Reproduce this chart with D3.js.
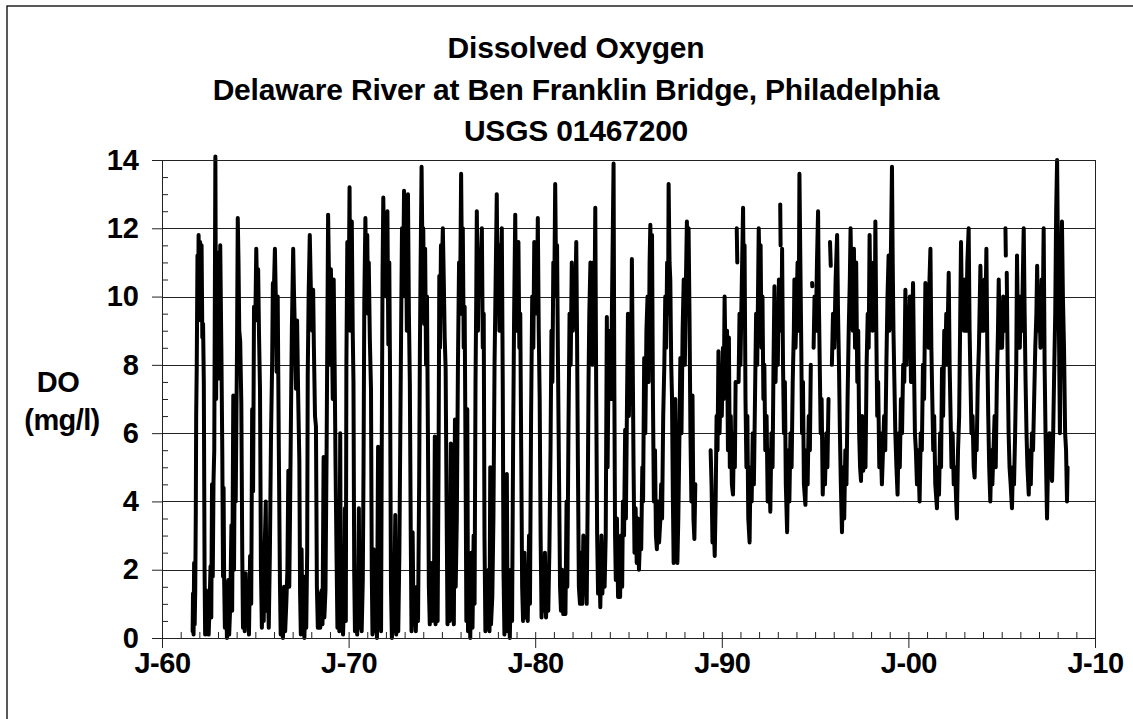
<!DOCTYPE html>
<html>
<head>
<meta charset="utf-8">
<style>
  body { margin: 0; background: #fff; }
  #chart-area svg { display: block; }
  text { font-family: Arial, "Liberation Sans", sans-serif; font-weight: bold; fill: #000; }
</style>
</head>
<body>
<div id="chart-area"></div>

<script src="https://cdnjs.cloudflare.com/ajax/libs/d3/7.8.5/d3.min.js"></script>
<script>
    // chart text
    const titleLines = ["Dissolved Oxygen", "Delaware River at Ben Franklin Bridge, Philadelphia", "USGS 01467200"];
    const yLabel = ["DO", "(mg/l)"];
    const yTicks = [0, 2, 4, 6, 8, 10, 12, 14];
    const xTickYears = [1960, 1970, 1980, 1990, 2000, 2010];
    const xTickLabels = ["J-60", "J-70", "J-80", "J-90", "J-00", "J-10"];

    // [decimal year, DO mg/l], null = gap in record
    const do1960s = [
        [1961.64,0.2],[1961.66,1.3],[1961.69,0.1],[1961.72,2.2],[1961.75,0.4],[1961.78,1.4],[1961.81,3.7],[1961.83,6.5],[1961.86,7.9],[1961.9,11.2],[1961.93,9.4],[1961.96,11.8],
        [1962.0,10.0],[1962.04,11.6],[1962.08,9.3],[1962.12,11.5],[1962.16,8.8],[1962.2,9.2],[1962.24,7.5],[1962.28,2.0],[1962.31,0.1],[1962.36,1.4],[1962.4,0.2],[1962.45,1.2],[1962.5,0.1],[1962.55,1.0],[1962.6,2.1],[1962.64,0.6],[1962.68,4.5],[1962.72,1.8],[1962.76,4.6],[1962.8,5.5],[1962.86,14.1],[1962.9,7.0],[1962.94,11.3],[1962.98,7.6],
        [1963.03,10.8],[1963.07,7.6],[1963.12,11.5],[1963.18,8.5],[1963.23,5.5],[1963.27,1.8],[1963.3,4.4],[1963.33,1.7],[1963.37,0.3],[1963.42,1.6],[1963.48,0.0],[1963.55,1.7],[1963.6,0.1],[1963.66,1.0],[1963.72,3.3],[1963.76,0.8],[1963.82,7.1],[1963.86,2.0],[1963.9,5.7],[1963.95,4.0],
        [1964.02,8.5],[1964.06,12.3],[1964.1,11.0],[1964.14,9.0],[1964.19,8.7],[1964.25,6.9],[1964.3,2.5],[1964.34,0.3],[1964.38,1.9],[1964.43,0.2],[1964.48,1.9],[1964.53,0.4],[1964.6,1.2],[1964.66,0.1],[1964.72,2.4],[1964.78,1.0],[1964.83,6.7],[1964.88,4.3],[1964.93,9.7],
        [1965.0,9.3],[1965.05,11.4],[1965.1,10.0],[1965.15,10.8],[1965.2,8.8],[1965.25,7.3],[1965.3,2.0],[1965.35,0.3],[1965.4,1.7],[1965.45,0.5],[1965.5,2.6],[1965.56,4.0],[1965.6,0.8],[1965.66,1.9],[1965.72,0.3],[1965.78,2.5],[1965.84,5.9],[1965.9,8.0],[1965.94,10.4],
        [1966.0,10.3],[1966.05,11.4],[1966.1,9.9],[1966.14,7.8],[1966.2,10.0],[1966.26,5.5],[1966.32,1.6],[1966.36,0.1],[1966.42,1.0],[1966.48,0.0],[1966.54,1.5],[1966.6,0.2],[1966.66,1.0],[1966.72,2.0],[1966.77,4.9],[1966.82,1.5],[1966.86,3.6],[1966.92,7.0],[1966.96,9.1],
        [1967.03,11.4],[1967.07,10.2],[1967.12,9.0],[1967.18,7.3],[1967.24,9.3],[1967.3,7.0],[1967.36,5.2],[1967.4,1.3],[1967.44,0.1],[1967.48,2.6],[1967.53,0.2],[1967.58,1.8],[1967.63,0.0],[1967.68,1.0],[1967.73,0.3],[1967.78,2.5],[1967.81,7.7],[1967.86,10.1],[1967.92,11.8],
        [1968.0,9.6],[1968.05,9.0],[1968.1,10.2],[1968.14,8.5],[1968.2,6.5],[1968.25,6.2],[1968.3,1.5],[1968.35,0.3],[1968.42,1.3],[1968.48,0.3],[1968.55,1.4],[1968.6,0.4],[1968.66,5.3],[1968.7,0.6],[1968.76,1.4],[1968.82,5.5],[1968.86,9.0],[1968.9,12.4],[1968.95,10.5],
        [1969.0,8.0],[1969.05,10.8],[1969.1,9.2],[1969.15,7.0],[1969.2,10.5],[1969.25,8.0],[1969.3,5.0],[1969.35,2.5],[1969.4,0.3],[1969.45,2.0],[1969.5,0.2],[1969.55,6.0],[1969.58,0.5],[1969.63,2.5],[1969.7,0.1],[1969.76,1.2],[1969.8,3.8],[1969.85,0.5],[1969.88,8.0],[1969.93,11.6],[1969.97,9.5]
    ];
    const do1970s = [
        [1970.02,11.0],[1970.05,13.2],[1970.09,9.0],[1970.13,11.5],[1970.17,12.2],[1970.22,9.0],[1970.26,7.5],[1970.3,1.9],[1970.34,0.2],[1970.4,1.5],[1970.46,0.1],[1970.5,1.2],[1970.55,3.8],[1970.58,0.3],[1970.64,1.9],[1970.7,0.2],[1970.76,1.7],[1970.8,5.0],[1970.84,9.8],[1970.9,12.3],[1970.95,10.0],
        [1971.0,11.8],[1971.04,9.5],[1971.08,11.0],[1971.14,8.7],[1971.2,7.3],[1971.24,2.0],[1971.28,0.1],[1971.34,2.6],[1971.4,0.2],[1971.46,1.2],[1971.52,0.0],[1971.58,5.6],[1971.62,0.5],[1971.68,1.7],[1971.74,0.2],[1971.78,6.0],[1971.82,10.7],[1971.86,12.9],[1971.92,10.5],[1971.96,12.0],
        [1972.02,10.0],[1972.08,12.5],[1972.13,8.6],[1972.18,11.0],[1972.22,7.8],[1972.27,1.5],[1972.32,0.0],[1972.38,2.0],[1972.43,0.2],[1972.5,3.6],[1972.55,0.1],[1972.6,1.5],[1972.66,0.2],[1972.72,2.5],[1972.77,6.0],[1972.82,9.5],[1972.86,12.0],[1972.92,10.5],[1972.97,13.1],
        [1973.02,10.0],[1973.07,12.2],[1973.12,9.0],[1973.18,13.0],[1973.23,9.5],[1973.28,7.5],[1973.33,3.0],[1973.37,0.2],[1973.43,3.1],[1973.48,0.4],[1973.55,1.2],[1973.6,0.2],[1973.66,1.5],[1973.72,0.5],[1973.78,4.5],[1973.82,8.5],[1973.86,11.0],[1973.91,13.8],[1973.96,11.0],
        [1974.0,12.0],[1974.05,9.2],[1974.1,11.4],[1974.15,8.0],[1974.2,10.0],[1974.25,6.0],[1974.3,1.5],[1974.35,0.4],[1974.42,2.2],[1974.47,0.5],[1974.52,1.8],[1974.57,1.0],[1974.62,5.9],[1974.66,0.4],[1974.72,2.8],[1974.77,0.5],[1974.82,5.0],[1974.86,10.6],[1974.9,8.5],[1974.95,11.5],
        [1975.0,10.8],[1975.05,12.0],[1975.1,10.5],[1975.15,8.8],[1975.2,7.9],[1975.25,4.0],[1975.3,0.4],[1975.36,1.8],[1975.42,0.5],[1975.48,5.7],[1975.52,0.8],[1975.58,2.2],[1975.64,0.4],[1975.7,6.4],[1975.74,1.5],[1975.8,3.5],[1975.86,8.0],[1975.92,11.0],[1975.97,9.5],
        [1976.03,13.6],[1976.08,10.5],[1976.12,12.0],[1976.17,8.5],[1976.22,9.7],[1976.27,5.0],[1976.31,0.5],[1976.36,6.7],[1976.4,0.2],[1976.46,1.8],[1976.52,0.0],[1976.58,2.5],[1976.64,0.3],[1976.7,3.0],[1976.75,1.0],[1976.8,7.5],[1976.84,10.0],[1976.87,12.5],[1976.93,9.0],[1976.97,11.0],
        [1977.02,10.0],[1977.08,11.0],[1977.14,12.0],[1977.19,8.5],[1977.24,9.5],[1977.28,3.0],[1977.33,0.2],[1977.38,1.5],[1977.43,0.3],[1977.5,2.0],[1977.55,0.2],[1977.59,5.0],[1977.63,0.4],[1977.7,1.2],[1977.76,3.5],[1977.82,8.0],[1977.88,10.5],[1977.94,13.0],[1977.98,10.0],
        [1978.03,11.5],[1978.08,9.0],[1978.14,10.5],[1978.21,12.0],[1978.26,7.5],[1978.3,2.0],[1978.35,0.1],[1978.41,1.5],[1978.48,4.8],[1978.52,0.2],[1978.58,1.4],[1978.64,0.0],[1978.7,2.0],[1978.76,0.5],[1978.82,6.0],[1978.87,9.5],[1978.93,12.4],[1978.98,9.0],
        [1979.04,10.5],[1979.1,11.6],[1979.15,8.5],[1979.2,9.5],[1979.25,5.5],[1979.3,1.5],[1979.35,0.5],[1979.42,2.5],[1979.48,0.6],[1979.55,1.8],[1979.6,0.5],[1979.67,3.0],[1979.72,1.0],[1979.78,6.5],[1979.84,10.0],[1979.9,8.5],[1979.95,11.6]
    ];
    const do1980s = [
        [1980.0,9.5],[1980.05,11.0],[1980.1,10.0],[1980.14,12.3],[1980.19,9.0],[1980.24,7.0],[1980.29,3.0],[1980.34,0.6],[1980.4,1.8],[1980.46,0.8],[1980.52,2.5],[1980.58,0.6],[1980.64,1.5],[1980.7,0.8],[1980.76,2.6],[1980.82,5.5],[1980.87,9.0],[1980.92,7.5],[1980.97,11.0],
        [1981.02,10.0],[1981.07,13.3],[1981.12,10.5],[1981.17,11.5],[1981.22,8.0],[1981.28,4.5],[1981.33,1.5],[1981.38,0.8],[1981.44,2.0],[1981.5,0.7],[1981.56,1.8],[1981.62,0.7],[1981.68,4.0],[1981.72,1.5],[1981.78,6.0],[1981.84,9.5],[1981.9,8.0],[1981.96,11.0],
        [1982.02,9.0],[1982.08,10.5],[1982.14,9.5],[1982.2,11.6],[1982.24,9.0],[1982.29,5.0],[1982.34,1.5],[1982.4,1.0],[1982.46,2.5],[1982.52,1.0],[1982.58,3.0],[1982.64,1.3],[1982.7,2.0],[1982.76,1.0],[1982.82,4.5],[1982.86,7.6],[1982.9,9.5],[1982.96,11.0],
        [1983.02,10.0],[1983.07,8.0],[1983.12,11.0],[1983.17,9.0],[1983.22,12.6],[1983.27,7.1],[1983.32,3.0],[1983.37,1.3],[1983.43,2.5],[1983.49,0.9],[1983.55,3.0],[1983.6,1.3],[1983.66,2.2],[1983.72,1.5],[1983.78,3.0],[1983.84,9.4],[1983.88,5.0],[1983.94,8.5],
        [1984.0,9.0],[1984.06,7.0],[1984.12,10.0],[1984.2,13.9],[1984.24,7.5],[1984.28,3.0],[1984.32,1.7],[1984.38,3.5],[1984.44,1.2],[1984.5,2.5],[1984.55,1.2],[1984.6,3.0],[1984.66,1.5],[1984.7,4.0],[1984.76,3.0],[1984.82,6.1],[1984.86,3.5],[1984.92,7.0],[1984.97,9.5],
        [1985.02,6.5],[1985.08,9.0],[1985.14,8.0],[1985.18,11.1],[1985.22,8.5],[1985.27,5.0],[1985.32,2.5],[1985.38,3.8],[1985.44,2.2],[1985.5,3.5],[1985.56,2.0],[1985.62,3.0],[1985.68,2.6],[1985.74,5.0],[1985.78,4.0],[1985.84,8.2],[1985.9,6.0],[1985.96,9.0],
        [1986.02,10.0],[1986.08,7.5],[1986.13,11.0],[1986.17,12.1],[1986.22,9.0],[1986.26,11.8],[1986.31,7.0],[1986.36,4.0],[1986.42,5.5],[1986.47,3.0],[1986.52,2.6],[1986.58,4.0],[1986.64,2.8],[1986.7,3.4],[1986.75,4.5],[1986.8,3.5],[1986.86,6.5],[1986.92,8.0],[1986.97,10.0],
        [1987.02,8.5],[1987.07,11.0],[1987.12,9.5],[1987.15,13.3],[1987.2,11.0],[1987.24,10.5],[1987.29,8.0],[1987.33,7.1],[1987.38,4.0],[1987.42,2.2],[1987.47,4.5],[1987.51,7.0],[1987.56,4.0],[1987.62,2.2],[1987.67,3.5],[1987.72,5.5],[1987.78,8.2],[1987.84,6.0],[1987.9,9.0],[1987.96,10.5],
        [1988.02,8.0],[1988.08,10.5],[1988.13,12.2],[1988.18,10.0],[1988.22,12.0],[1988.27,9.4],[1988.32,6.0],[1988.37,4.0],[1988.43,7.1],[1988.48,3.5],[1988.53,2.9],[1988.58,4.5],[1988.62,null],
        [1989.4,5.5],[1989.45,4.5],[1989.5,2.8],[1989.56,3.5],[1989.62,2.4],[1989.67,4.0],[1989.72,6.5],[1989.77,5.5],[1989.82,8.4],[1989.88,6.0],[1989.94,7.5]
    ];
    const do1990s = [
        [1990.0,6.5],[1990.06,8.5],[1990.1,7.0],[1990.15,10.0],[1990.2,8.0],[1990.28,9.0],[1990.33,5.5],[1990.38,8.8],[1990.43,5.0],[1990.48,6.5],[1990.54,4.5],[1990.6,4.2],[1990.65,6.0],[1990.7,5.0],[1990.74,7.5],[1990.77,null],
        [1990.8,12.0],[1990.83,11.0],[1990.85,null],
        [1990.9,7.5],[1990.95,9.5],[1991.0,8.0],[1991.06,10.0],[1991.14,12.6],[1991.18,10.0],[1991.22,11.5],[1991.27,7.0],[1991.32,5.0],[1991.37,6.5],[1991.42,3.5],[1991.49,2.8],[1991.54,5.0],[1991.6,4.0],[1991.66,6.0],[1991.72,4.5],[1991.78,7.0],[1991.84,9.5],[1991.9,8.0],[1991.98,12.0],
        [1992.03,10.5],[1992.08,11.5],[1992.13,8.5],[1992.18,10.0],[1992.23,7.0],[1992.28,8.0],[1992.33,5.5],[1992.4,6.5],[1992.46,4.0],[1992.52,5.5],[1992.6,3.7],[1992.66,6.0],[1992.72,5.0],[1992.77,8.0],[1992.82,10.3],[1992.88,7.5],[1992.94,9.5],
        [1993.0,8.0],[1993.06,10.5],[1993.1,null],[1993.13,12.7],[1993.15,11.5],[1993.17,null],[1993.2,9.0],[1993.23,11.4],[1993.28,8.0],[1993.33,6.0],[1993.38,7.5],[1993.43,4.5],[1993.5,3.1],[1993.56,5.5],[1993.62,4.0],[1993.68,6.0],[1993.74,5.0],[1993.8,7.5],[1993.86,9.0],[1993.89,10.5],[1993.95,8.5],
        [1994.0,9.5],[1994.06,11.0],[1994.12,9.0],[1994.16,13.6],[1994.21,11.0],[1994.26,8.5],[1994.3,6.0],[1994.35,7.5],[1994.4,4.5],[1994.48,3.9],[1994.54,5.5],[1994.6,4.5],[1994.66,6.5],[1994.72,5.5],[1994.77,8.0],[1994.8,null],
        [1994.84,10.4],[1994.85,10.3],[1994.87,null],
        [1994.92,8.5],[1994.97,10.0],[1995.04,9.0],[1995.1,11.0],[1995.16,12.5],[1995.2,10.0],[1995.25,8.0],[1995.3,6.0],[1995.35,7.0],[1995.41,4.2],[1995.47,5.5],[1995.53,4.5],[1995.6,6.0],[1995.66,5.0],[1995.72,7.0],[1995.77,null],
        [1995.8,11.6],[1995.84,10.9],[1995.86,null],
        [1995.9,8.0],[1995.96,9.5],[1996.03,8.5],[1996.1,10.5],[1996.18,11.8],[1996.23,9.5],[1996.28,8.0],[1996.33,6.0],[1996.38,4.5],[1996.44,3.1],[1996.5,5.0],[1996.56,3.5],[1996.62,5.5],[1996.68,4.5],[1996.74,7.0],[1996.8,9.0],[1996.86,10.5],[1996.9,12.0],[1996.96,10.0],
        [1997.02,9.0],[1997.08,11.4],[1997.14,8.5],[1997.2,11.0],[1997.26,7.5],[1997.31,9.0],[1997.36,6.0],[1997.41,5.0],[1997.46,4.6],[1997.52,6.5],[1997.58,4.9],[1997.64,6.0],[1997.7,5.0],[1997.76,8.0],[1997.82,9.5],[1997.87,8.5],[1997.92,11.8],[1997.97,9.5],
        [1998.03,10.5],[1998.08,9.0],[1998.14,11.0],[1998.2,9.5],[1998.23,12.2],[1998.28,9.0],[1998.33,6.5],[1998.38,7.5],[1998.44,5.0],[1998.5,6.0],[1998.58,4.5],[1998.64,5.5],[1998.7,6.5],[1998.76,5.5],[1998.82,8.0],[1998.88,10.0],[1998.94,11.2],[1998.98,9.0],
        [1999.03,10.0],[1999.08,12.0],[1999.12,13.8],[1999.16,11.0],[1999.2,9.0],[1999.25,7.5],[1999.3,6.0],[1999.36,5.0],[1999.42,4.2],[1999.48,6.0],[1999.54,5.0],[1999.6,7.0],[1999.66,6.0],[1999.72,8.0],[1999.78,7.5],[1999.84,10.2],[1999.9,8.0],[1999.96,9.5]
    ];
    const do2000s = [
        [2000.02,8.5],[2000.08,10.0],[2000.14,7.5],[2000.2,9.0],[2000.25,10.4],[2000.3,8.0],[2000.35,6.0],[2000.4,5.5],[2000.46,4.5],[2000.52,5.5],[2000.6,4.0],[2000.66,6.0],[2000.72,5.5],[2000.78,8.0],[2000.84,7.0],[2000.91,10.4],[2000.96,9.0],
        [2001.02,10.0],[2001.08,8.5],[2001.13,10.5],[2001.18,11.4],[2001.23,8.5],[2001.28,7.0],[2001.33,5.5],[2001.38,6.5],[2001.44,4.5],[2001.53,3.8],[2001.58,5.0],[2001.64,4.2],[2001.7,6.0],[2001.75,5.0],[2001.8,7.9],[2001.86,6.5],[2001.92,9.0],[2001.97,8.0],
        [2002.03,9.5],[2002.08,8.0],[2002.12,9.5],[2002.16,10.7],[2002.21,8.0],[2002.26,6.5],[2002.31,5.0],[2002.37,6.0],[2002.43,4.5],[2002.5,5.0],[2002.56,4.0],[2002.6,3.5],[2002.66,5.5],[2002.72,6.5],[2002.77,9.0],[2002.82,11.6],[2002.87,9.5],[2002.93,10.5],[2002.98,9.0],
        [2003.04,10.5],[2003.1,9.0],[2003.16,11.0],[2003.23,12.0],[2003.28,9.0],[2003.33,7.5],[2003.38,6.0],[2003.44,6.5],[2003.5,5.0],[2003.55,4.7],[2003.6,6.0],[2003.66,5.5],[2003.72,7.5],[2003.78,8.5],[2003.86,10.9],[2003.92,9.0],[2003.97,10.0],
        [2004.03,9.0],[2004.08,10.5],[2004.13,9.5],[2004.18,11.4],[2004.23,8.5],[2004.28,6.5],[2004.33,5.0],[2004.39,4.0],[2004.45,5.5],[2004.5,4.5],[2004.56,5.5],[2004.62,6.5],[2004.68,5.0],[2004.74,7.5],[2004.8,9.0],[2004.84,10.5],[2004.9,8.5],[2004.96,9.5],
        [2005.02,8.5],[2005.08,10.0],[2005.14,9.0],[2005.17,null],[2005.2,12.0],[2005.22,11.2],[2005.24,null],[2005.27,10.7],[2005.32,8.0],[2005.37,6.0],[2005.42,5.0],[2005.48,4.5],[2005.55,3.8],[2005.6,5.0],[2005.66,4.5],[2005.72,6.0],[2005.78,8.0],[2005.82,11.2],[2005.87,9.0],[2005.92,10.0],[2005.97,8.5],
        [2006.03,10.0],[2006.08,9.0],[2006.13,10.5],[2006.18,12.0],[2006.23,9.5],[2006.28,7.5],[2006.33,6.0],[2006.38,5.0],[2006.45,4.2],[2006.5,5.5],[2006.56,4.5],[2006.62,6.0],[2006.68,5.5],[2006.74,7.0],[2006.8,8.5],[2006.86,9.5],[2006.9,10.9],[2006.96,9.0],
        [2007.02,10.0],[2007.08,8.5],[2007.14,10.5],[2007.2,9.5],[2007.25,12.0],[2007.3,8.0],[2007.35,6.0],[2007.43,3.5],[2007.5,5.5],[2007.56,6.0],[2007.62,5.0],[2007.7,4.6],[2007.76,6.0],[2007.82,8.0],[2007.87,9.5],[2007.92,12.5],[2007.97,14.0],
        [2008.02,11.0],[2008.07,9.0],[2008.12,6.0],[2008.18,10.0],[2008.23,12.2],[2008.28,10.0],[2008.34,8.5],[2008.4,6.0],[2008.45,5.5],[2008.5,4.0],[2008.53,5.0]
    ];

    const width = 1133;
    const height = 719;
    const plot = { left: 162, top: 160, right: 1095, bottom: 638 };

    // decimal year -> Date
    const toDate = t => {
        const yr = Math.floor(t);
        const start = new Date(yr, 0, 1), end = new Date(yr + 1, 0, 1);
        return new Date(+start + (t - yr) * (end - start));
    };

    const series = [].concat(do1960s, do1970s, do1980s, do1990s, do2000s)
        .map(d => ({ date: toDate(d[0]), value: d[1] }));

    const svg = d3.select("#chart-area")
        .append("svg")
            .attr("width", width)
            .attr("height", height);

    const x = d3.scaleTime()
        .domain([new Date(1960, 0, 1), new Date(2010, 0, 1)])
        .range([plot.left, plot.right]);

    const y = d3.scaleLinear()
        .domain([0, 14])
        .range([plot.bottom, plot.top]);

    // outer frame (runs off the right and bottom edges)
    svg.append("rect")
        .attr("x", 7).attr("y", 6)
        .attr("width", width + 20).attr("height", height + 20)
        .attr("fill", "none")
        .attr("stroke", "#000")
        .attr("stroke-width", 1.3);

    // title
    svg.append("g").selectAll("text")
        .data(titleLines)
        .join("text")
            .attr("x", 576)
            .attr("y", (d, i) => 58 + i * 41.5)
            .attr("text-anchor", "middle")
            .style("font-size", "30px")
            .style("letter-spacing", "-0.2px")
            .text(d => d);

    // gridlines
    svg.append("g").selectAll("line")
        .data(yTicks.filter(v => v > 0))
        .join("line")
            .attr("x1", plot.left).attr("x2", plot.right)
            .attr("y1", d => Math.round(y(d)) + 0.5)
            .attr("y2", d => Math.round(y(d)) + 0.5)
            .attr("stroke", "#222")
            .attr("stroke-width", 1);

    // right edge of plot area
    svg.append("line")
        .attr("x1", plot.right + 0.5).attr("x2", plot.right + 0.5)
        .attr("y1", plot.top).attr("y2", plot.bottom)
        .attr("stroke", "#222");

    // minor ticks
    svg.append("g")
        .attr("transform", `translate(${plot.left},0)`)
        .call(d3.axisRight(y).tickValues(d3.range(0, 14.01, 0.5).filter(v => v % 2 !== 0)).tickSize(6).tickFormat("").tickSizeOuter(0))
        .call(g => g.select(".domain").remove());

    svg.append("g")
        .attr("transform", `translate(0,${plot.bottom})`)
        .call(d3.axisTop(x).ticks(d3.timeYear.every(1)).tickSize(6).tickFormat("").tickSizeOuter(0))
        .call(g => g.select(".domain").remove());

    // the data line
    const line = d3.line()
        .defined(d => d.value !== null)
        .x(d => x(d.date))
        .y(d => y(d.value));

    svg.append("path")
        .datum(series)
        .attr("fill", "none")
        .attr("stroke", "#000")
        .attr("stroke-width", 4)
        .attr("stroke-linejoin", "round")
        .attr("stroke-linecap", "round")
        .attr("d", line);

    // y axis
    svg.append("g")
        .attr("transform", `translate(${plot.left},0)`)
        .call(d3.axisLeft(y).tickValues(yTicks).tickSize(10).tickPadding(13).tickSizeOuter(0))
        .call(g => g.selectAll("text").style("font-size", "29px").attr("fill", "#000"));

    // x axis
    svg.append("g")
        .attr("transform", `translate(0,${plot.bottom})`)
        .call(d3.axisBottom(x)
            .tickValues(xTickYears.map(yr => new Date(yr, 0, 1)))
            .tickFormat((d, i) => xTickLabels[i])
            .tickSize(10).tickPadding(4).tickSizeOuter(0))
        .call(g => g.selectAll("text").style("font-size", "29px").style("letter-spacing", "-0.5px").attr("fill", "#000"));

    // top edge of plot area
    svg.append("line")
        .attr("x1", plot.left - 10).attr("x2", plot.right)
        .attr("y1", plot.top + 0.5).attr("y2", plot.top + 0.5)
        .attr("stroke", "#222");

    svg.selectAll(".tick line, .domain").attr("stroke", "#222");

    // y axis title
    svg.append("g").selectAll("text")
        .data(yLabel)
        .join("text")
            .attr("x", (d, i) => i === 0 ? 58 : 62)
            .attr("y", (d, i) => 392 + i * 38)
            .attr("text-anchor", "middle")
            .style("font-size", "29px")
            .style("letter-spacing", "-0.6px")
            .text(d => d);
</script>
</body>
</html>
